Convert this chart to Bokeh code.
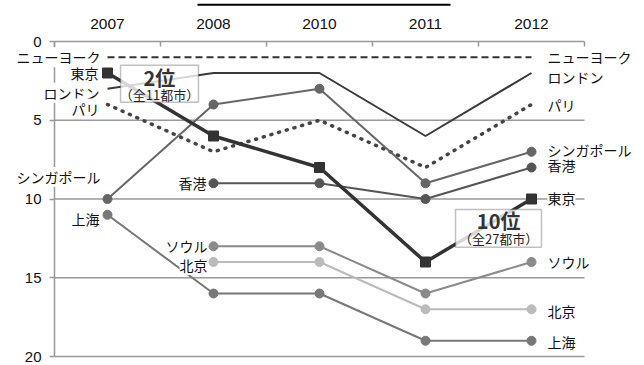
import numpy as np
from bokeh.plotting import figure
from bokeh.models import Range1d, FixedTicker, Label, BoxAnnotation
from bokeh.embed import file_html
from bokeh.resources import INLINE

# ---- data ----
years = ["2007", "2008", "2010", "2011", "2012"]
newyork = [1, 1, 1, 1, 1]
london = [3, 2, 2, 6, 2]
paris = [4, 7, 5, 8, 4]
tokyo = [2, 6, 8, 14, 10]
singapore = [10, 4, 3, 9, 7]
hongkong = [None, 9, 9, 10, 8]
shanghai = [11, 16, 16, 19, 19]
seoul = [None, 13, 13, 16, 14]
beijing = [None, 14, 14, 17, 17]
y_ticks = [0, 5, 10, 15, 20]

JP = "Noto Sans CJK JP"
LAT = "Liberation Sans"
GRID = "#999999"

# frame covers the whole canvas; axes are placed at fixed locations inside it
p = figure(width=644, height=365, x_range=Range1d(-1.0094, 5.066), y_range=Range1d(20.57, -2.603),
           output_backend="svg", toolbar_location=None, x_axis_location="above",
           min_border_left=0, min_border_right=0, min_border_top=0, min_border_bottom=0)
p.outline_line_color = None
p.background_fill_color = "white"
p.border_fill_color = "white"

xs = list(range(len(years)))
x_lo, x_hi = -0.5, len(years) - 0.5

# top axis (categories)
xa = p.xaxis[0]
xa.fixed_location = 0
xa.bounds = (x_lo, x_hi)
xa.ticker = FixedTicker(ticks=xs, minor_ticks=[i - 0.5 for i in range(len(years) + 1)])
xa.major_label_overrides = {i: y for i, y in enumerate(years)}
xa.major_tick_line_color = None
xa.minor_tick_in = 5
xa.minor_tick_out = 0
xa.minor_tick_line_color = GRID
xa.minor_tick_line_width = 1.5
xa.axis_line_color = GRID
xa.axis_line_width = 1.5
xa.major_label_standoff = 7
xa.major_label_text_font = LAT
xa.major_label_text_font_size = "15.5px"
xa.major_label_text_color = "#111111"

# left axis (rank)
ya = p.yaxis[0]
ya.fixed_location = x_lo
ya.bounds = (0, 20)
ya.ticker = FixedTicker(ticks=y_ticks)
ya.major_tick_out = 5
ya.major_tick_in = 0
ya.major_tick_line_color = GRID
ya.major_tick_line_width = 1.5
ya.minor_tick_line_color = None
ya.axis_line_color = GRID
ya.axis_line_width = 1.5
ya.major_label_standoff = 8
ya.major_label_text_font = LAT
ya.major_label_text_font_size = "15px"
ya.major_label_text_color = "#111111"

p.xgrid.grid_line_color = None
p.ygrid.grid_line_color = None
# horizontal grid lines limited to the chart area
gy = [t for t in y_ticks if t != 0]
p.segment(x0=[x_lo] * len(gy), x1=[x_hi] * len(gy), y0=gy, y1=gy, line_color=GRID, line_width=1.5)


def arr(v):
    return np.array([np.nan if a is None else a for a in v], dtype=float)


# series: (name, values, color, width, dash, marker)
series = [
    ("ニューヨーク", newyork, "#333333", 2, "7 4", None),
    ("ロンドン", london, "#3a3a3a", 2, "solid", None),
    ("パリ", paris, "#444444", 3.5, "1 7", None),
    ("上海", shanghai, "#777777", 2, "solid", "circle"),
    ("北京", beijing, "#bbbbbb", 2, "solid", "circle"),
    ("ソウル", seoul, "#8a8a8a", 2, "solid", "circle"),
    ("香港", hongkong, "#555555", 2, "solid", "circle"),
    ("シンガポール", singapore, "#666666", 2, "solid", "circle"),
    ("東京", tokyo, "#333333", 3.5, "solid", "square"),
]

for name, vals, col, w, dash, mk in series:
    yv = arr(vals)
    p.line(xs, yv, line_color=col, line_width=w, line_dash=dash,
           line_cap="round" if dash == "1 7" else "butt")
    if mk == "circle":
        p.scatter(xs, yv, marker="circle", size=9, fill_color=col, line_color=col)
    elif mk == "square":
        p.scatter(xs, yv, marker="square", size=10, fill_color=col, line_color=col)

# label offsets (pixels): left labels (dx, dy), right labels dy
left_off = {"ニューヨーク": (-7, 0), "東京": (-9, 0), "ロンドン": (-8, -4), "パリ": (-8, -4),
            "シンガポール": (-7, 22), "上海": (-8, -4), "香港": (-7, 0), "ソウル": (-6, 0),
            "北京": (-6, -3)}
right_off = {"ニューヨーク": 0, "ロンドン": -4, "パリ": 0, "シンガポール": 2, "香港": 3,
             "東京": 1, "ソウル": 0, "北京": -2, "上海": -1}

for name, vals, col, w, dash, mk in series:
    first = next(i for i, v in enumerate(vals) if v is not None)
    dx, dy = left_off[name]
    p.add_layout(Label(x=first, y=vals[first], x_offset=dx, y_offset=dy, text=name,
                       text_align="right", text_baseline="middle", text_font=JP,
                       text_font_size="14px", text_color="#111111",
                       background_fill_color="white"))
    p.add_layout(Label(x=len(vals) - 1, y=vals[-1], x_offset=16, y_offset=right_off[name], text=name,
                       text_align="left", text_baseline="middle", text_font=JP,
                       text_font_size="14px", text_color="#111111",
                       background_fill_color="white"))

# callout boxes
for (l, r, t, b) in [(0.123, 0.858, 1.51, 3.85), (3.283, 4.094, 10.66, 13.06)]:
    p.add_layout(BoxAnnotation(left=l, right=r, top=t, bottom=b, fill_color="white",
                               fill_alpha=0.8, line_color="#333333", line_width=1.5))

for (x, y1, y2, t1, t2) in [(0.49, 2.3, 3.35, "2位", "（全11都市）"),
                            (3.69, 11.35, 12.5, "10位", "（全27都市）")]:
    p.add_layout(Label(x=x, y=y1, text=t1, text_align="center", text_baseline="middle",
                       text_font=JP, text_font_size="20px", text_font_style="bold",
                       text_color="#333333"))
    p.add_layout(Label(x=x, y=y2, text=t2, text_align="center", text_baseline="middle",
                       text_font=JP, text_font_size="13px", text_color="#222222"))

# underline of the (cropped) title at the very top
p.segment(x0=[0.849], x1=[3.236], y0=[-2.33], y1=[-2.33], line_color="#000000", line_width=2)

open("out.html", "w").write(file_html(p, INLINE))
